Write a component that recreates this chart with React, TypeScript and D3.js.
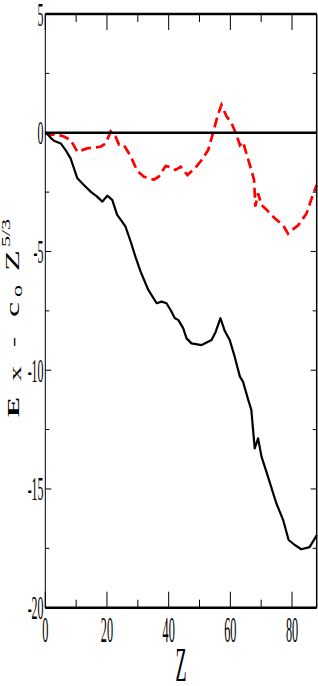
import React from "react";
import { scaleLinear, line, range } from "d3";

// Z values and E_x - c0 Z^(5/3)
const zBlack = [0, 1, 2, 3, 5, 6.6, 8.2, 9.3, 10.4, 12.5, 14.7, 16.8, 18.5, 20.1, 21.7, 23.3, 24.9, 26, 27.7, 29.3, 30.9, 33.4, 36.1, 37.7, 39.3, 40.9, 42, 43.1, 44.7, 45.8, 47.4, 50.7, 53.9, 55.2, 56.8, 58.2, 59.8, 61.4, 63.1, 64.1, 65.8, 66.8, 67.9, 69, 70.1, 72.2, 74.9, 77.1, 78.9, 80.9, 83, 85.7, 88];
const vBlack = [0, -0.1, -0.25, -0.35, -0.45, -0.73, -1.08, -1.5, -1.92, -2.2, -2.48, -2.69, -2.9, -2.65, -2.83, -3.46, -3.74, -3.95, -4.59, -5.25, -5.85, -6.62, -7.18, -7.11, -7.18, -7.53, -7.81, -7.88, -8.23, -8.66, -8.87, -8.94, -8.73, -8.4, -7.81, -8.35, -8.73, -9.43, -10.27, -10.48, -11.25, -11.67, -13.29, -12.87, -13.64, -14.48, -15.6, -16.3, -17.15, -17.36, -17.54, -17.45, -16.95];

const zRed = [0, 1.7, 3.4, 6, 8.2, 10.4, 13.6, 17.9, 19.6, 21.2, 22.8, 23.9, 25.5, 27.7, 29.8, 32, 35.2, 36.8, 39, 40.6, 42.2, 43.9, 46.1, 48.5, 50.7, 52.8, 54.4, 55.8, 57.1, 58.8, 60.4, 62, 63.1, 64.1, 65.2, 66.8, 67.7, 68.1, 69, 70.1, 72.2, 74.4, 77.1, 78.7, 80, 82, 84.7, 86.8, 88];
const vRed = [0, -0.1, -0.05, -0.16, -0.3, -0.8, -0.66, -0.59, -0.45, 0.05, -0.17, -0.5, -0.52, -1.0, -1.6, -1.85, -1.98, -1.85, -1.4, -1.45, -1.57, -1.43, -1.78, -1.5, -1.15, -0.73, 0, 0.68, 1.17, 0.68, 0.4, -0.09, -0.52, -0.38, -0.87, -1.57, -1.99, -3.11, -2.55, -3.04, -3.3, -3.6, -3.9, -4.25, -4.1, -3.9, -3.4, -2.6, -2.2];

const xTicks = [0, 20, 40, 60, 80];
const yTicks = [5, 0, -5, -10, -15, -20];

const W = 318;
const H = 686;
const left = 45.3;
const right = 316.7;
const top = 14;
const bottom = 607.7;

const serif = "'Liberation Serif', 'DejaVu Serif', serif";

export default function App() {
  const x = scaleLinear().domain([0, 88]).range([left, right]);
  const y = scaleLinear().domain([-20, 5]).range([bottom, top]);

  const path = (zs: number[], vs: number[]) =>
    line<number>()
      .x((d) => x(zs[d]))
      .y((d) => y(vs[d]))(range(zs.length)) || "";

  const minorX = range(0, 90, 10);
  const minorY = range(-20, 5.01, 2.5);

  return (
    <svg
      width={W}
      height={H}
      style={{ position: "fixed", left: 0, top: 0, background: "#fff" }}
    >
      {/* data */}
      <path d={path(zRed, vRed)} fill="none" stroke="#ff0000" strokeWidth={2.7} strokeDasharray="10,5" />
      <path d={path(zBlack, vBlack)} fill="none" stroke="#000" strokeWidth={2.2} strokeLinejoin="round" />

      {/* zero line */}
      <line x1={left} x2={right} y1={y(0)} y2={y(0)} stroke="#000" strokeWidth={2.5} />

      {/* frame */}
      <line x1={left} x2={right} y1={top} y2={top} stroke="#000" strokeWidth={2.5} />
      <line x1={left} x2={right} y1={bottom} y2={bottom} stroke="#000" strokeWidth={2.5} />
      <line x1={left} x2={left} y1={top} y2={bottom} stroke="#000" strokeWidth={1} />
      <line x1={right} x2={right} y1={top} y2={bottom} stroke="#000" strokeWidth={1.5} />

      {/* x ticks */}
      {minorX.map((t) => {
        const len = t % 20 === 0 ? 16 : 8;
        return (
          <g key={"xt" + t}>
            <line x1={x(t)} x2={x(t)} y1={top} y2={top + len} stroke="#000" strokeWidth={1} />
            <line x1={x(t)} x2={x(t)} y1={bottom} y2={bottom - len} stroke="#000" strokeWidth={1} />
          </g>
        );
      })}

      {/* y ticks */}
      {minorY.map((t) => {
        const len = t % 5 === 0 ? 6 : 4;
        return (
          <g key={"yt" + t}>
            <line x1={left} x2={left + len} y1={y(t)} y2={y(t)} stroke="#000" strokeWidth={1} />
            <line x1={right} x2={right - len} y1={y(t)} y2={y(t)} stroke="#000" strokeWidth={1} />
          </g>
        );
      })}

      {/* x tick labels */}
      {xTicks.map((t) => (
        <text
          key={"xl" + t}
          transform={`translate(${x(t)},642) scale(0.34,1)`}
          textAnchor="middle"
          fontFamily={serif}
          fontSize={36}
        >
          {t}
        </text>
      ))}

      {/* y tick labels */}
      {yTicks.map((t) => (
        <text
          key={"yl" + t}
          transform={`translate(43.5,${y(t) + 11.5}) scale(0.35,1)`}
          textAnchor="end"
          fontFamily={serif}
          fontSize={34}
        >
          {t}
        </text>
      ))}

      {/* x axis title */}
      <text
        transform={`translate(${(left + right) / 2},681) scale(0.38,1)`}
        textAnchor="middle"
        fontFamily={serif}
        fontSize={48}
      >
        Z
      </text>

      {/* y axis title */}
      <g transform="translate(19,417) rotate(-90) scale(1,0.58)" fontFamily={serif}>
        <text x={0} y={0} fontSize={30} fontWeight="bold">E</text>
        <text x={36} y={4} fontSize={30}>x</text>
        <text x={70} y={0} fontSize={30}>-</text>
        <text x={100} y={0} fontSize={34}>c</text>
        <text x={120} y={6} fontSize={24}>o</text>
        <text x={146} y={0} fontSize={34}>Z</text>
        <text x={170} y={-15} fontSize={22}>5/3</text>
      </g>
    </svg>
  );
}
